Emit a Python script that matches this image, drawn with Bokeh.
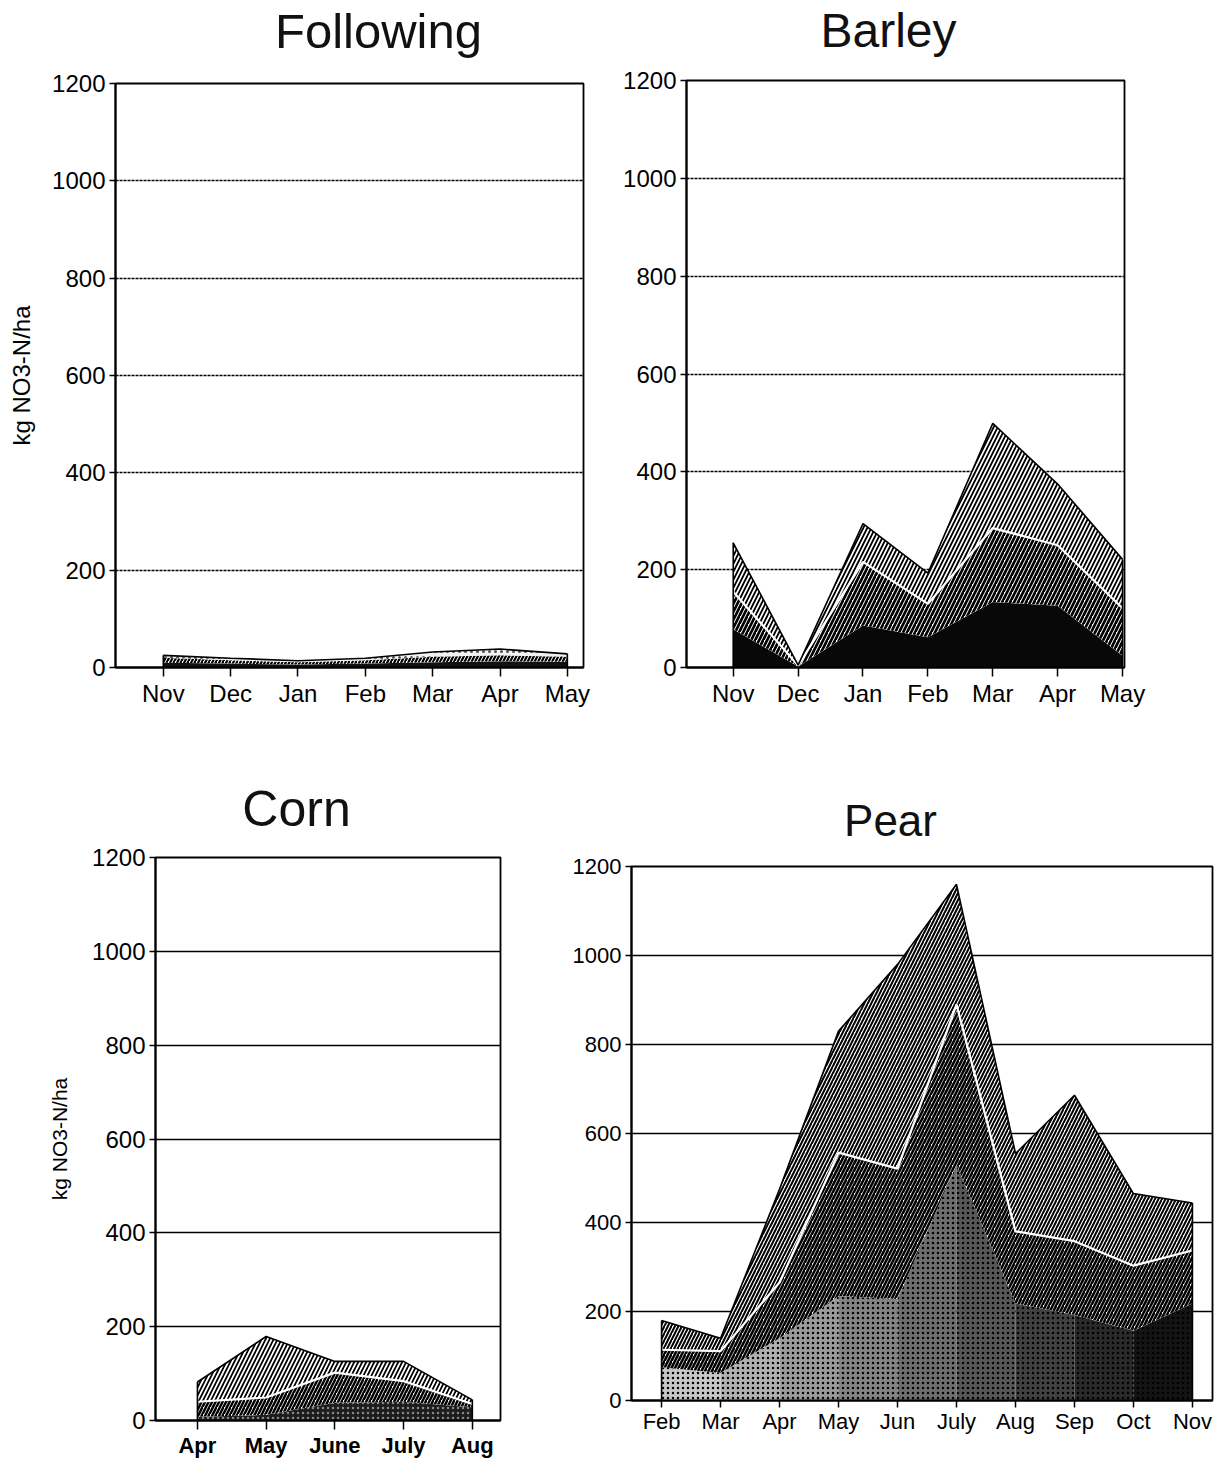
import numpy as np
from bokeh.plotting import figure
from bokeh.models import Range1d, FixedTicker, ColumnDataSource, CDSView, IndexFilter
from bokeh.layouts import column, row
from bokeh.transform import stack
from bokeh.core.properties import value
from bokeh.embed import file_html
from bokeh.resources import INLINE

FONT = "Liberation Sans"
Y_TICKS = [0, 200, 400, 600, 800, 1000, 1200]
Y_LABEL = "kg NO3-N/ha"

# ---------------- data (kg NO3-N/ha per layer, stacked) ----------------
following_months = ["Nov", "Dec", "Jan", "Feb", "Mar", "Apr", "May"]
following_layer1 = [10, 8, 6, 8, 11, 13, 12]
following_layer2 = [10, 7, 5, 7, 11, 12, 10]
following_layer3 = [5, 4, 3, 4, 10, 13, 6]

barley_months = ["Nov", "Dec", "Jan", "Feb", "Mar", "Apr", "May"]
barley_layer1 = [78, 2, 86, 62, 134, 126, 24]
barley_layer2 = [77, 2, 130, 68, 151, 124, 97]
barley_layer3 = [100, 1, 78, 63, 214, 125, 100]

corn_months = ["Apr", "May", "June", "July", "Aug"]
corn_layer1 = [8, 12, 38, 40, 28]
corn_layer2 = [32, 37, 64, 44, 7]
corn_layer3 = [42, 130, 24, 42, 9]

pear_months = ["Feb", "Mar", "Apr", "May", "Jun", "July", "Aug", "Sep", "Oct", "Nov"]
pear_layer1 = [75, 62, 140, 235, 228, 530, 218, 192, 157, 218]
pear_layer2 = [39, 49, 125, 322, 293, 360, 162, 166, 146, 119]
pear_layer3 = [66, 29, 210, 273, 459, 270, 175, 328, 162, 107]


def make_source(months, l1, l2, l3):
    return ColumnDataSource(dict(x=list(range(len(months))), l1=l1, l2=l2, l3=l3))


def title_fig(text, width, height, cx, cy_from_top, size):
    """A strip holding the panel title (pixel-unit ranges)."""
    t = figure(width=width, height=height, x_range=Range1d(0, width), y_range=Range1d(0, height),
               output_backend="svg", toolbar_location=None,
               x_axis_location=None, y_axis_location=None,
               min_border_left=0, min_border_right=0, min_border_top=0, min_border_bottom=0)
    t.frame_align = False
    t.grid.visible = False
    t.outline_line_color = None
    t.background_fill_color = "white"
    t.border_fill_color = "white"
    src = ColumnDataSource(dict(x=[cx], y=[height - cy_from_top], t=[text]))
    t.text(x="x", y="y", text="t", source=src, text_font=value(FONT),
           text_font_size=value(size), text_align="center", text_baseline="middle",
           text_color="#111111")
    return t


def make_fig(months, width, height, left, right, top, bottom, xr, tick_size, xlab_size,
             xlab_style="normal", grid_dash="solid", ylabel=None, ylabel_size="17px",
             label_standoff=25, xtick_out=9, xlab_standoff=3):
    p = figure(width=width, height=height, x_range=Range1d(*xr), y_range=Range1d(0, 1200),
               output_backend="svg", toolbar_location=None,
               min_border_left=left, min_border_right=right,
               min_border_top=top, min_border_bottom=bottom)
    p.frame_align = False

    p.xaxis.ticker = FixedTicker(ticks=list(range(len(months))))
    p.xaxis.major_label_overrides = {i: m for i, m in enumerate(months)}
    p.xaxis.major_label_text_font = FONT
    p.xaxis.major_label_text_font_size = xlab_size
    p.xaxis.major_label_text_font_style = xlab_style
    p.xaxis.major_label_text_color = "black"
    p.xaxis.major_tick_out = xtick_out
    p.xaxis.major_tick_in = 0
    p.xaxis.major_tick_line_width = 1.5
    p.xaxis.minor_tick_line_color = None
    p.xaxis.axis_line_width = 2
    p.xaxis.major_label_standoff = xlab_standoff

    p.yaxis.ticker = FixedTicker(ticks=Y_TICKS)
    p.yaxis.major_label_text_font = FONT
    p.yaxis.major_label_text_font_size = tick_size
    p.yaxis.major_label_text_color = "black"
    p.yaxis.major_tick_out = 6
    p.yaxis.major_tick_in = 0
    p.yaxis.major_tick_line_width = 1.5
    p.yaxis.minor_tick_line_color = None
    p.yaxis.axis_line_width = 2
    p.yaxis.major_label_standoff = 4
    if ylabel:
        p.yaxis.axis_label = ylabel
        p.yaxis.axis_label_text_font = FONT
        p.yaxis.axis_label_text_font_size = ylabel_size
        p.yaxis.axis_label_text_font_style = "normal"
        p.yaxis.axis_label_text_color = "black"
        p.yaxis.axis_label_standoff = label_standoff

    p.xgrid.visible = False
    p.ygrid.ticker = FixedTicker(ticks=Y_TICKS)
    p.ygrid.grid_line_color = "black"
    p.ygrid.grid_line_width = 1.3
    p.ygrid.grid_line_dash = grid_dash
    p.outline_line_color = "black"
    p.outline_line_width = 1.8
    p.background_fill_color = "white"
    p.border_fill_color = "white"
    return p


def draw_layers(p, src, n, styles, white_line=True):
    names = ["l1", "l2", "l3"]
    for i, st in enumerate(styles):
        if st is None:
            continue
        y1 = stack(*names[:i]) if i > 0 else 0
        p.varea(x="x", y1=y1, y2=stack(*names[:i + 1]), source=src, **st)
    if white_line:
        p.line(x="x", y=stack("l1", "l2"), source=src, line_color="white", line_width=2.2)
    p.line(x="x", y=stack("l1", "l2", "l3"), source=src, line_color="black", line_width=1.6)
    ends = CDSView(filter=IndexFilter([0, n - 1]))
    p.segment(x0="x", y0=0, x1="x", y1=stack("l1", "l2", "l3"), source=src, view=ends,
              line_color="black", line_width=1.6)


# ---------------- Following ----------------
tA = title_fig("Following", 620, 66, 378, 30, "49px")
pA = make_fig(following_months, 620, 674, 115, 37, 17, 73, (-0.71, 6.24),
              "24px", "24px", grid_dash="3 1", ylabel=Y_LABEL, ylabel_size="24px",
              label_standoff=14)
srcA = make_source(following_months, following_layer1, following_layer2, following_layer3)
draw_layers(pA, srcA, len(following_months), [
    dict(fill_color="#111111"),
    dict(fill_color="#ffffff", hatch_pattern="/", hatch_color="black", hatch_scale=7, hatch_weight=2.2),
    dict(fill_color="#f2f2f2", hatch_pattern=".", hatch_color="#555555", hatch_scale=6, hatch_weight=1),
], white_line=False)

# ---------------- Barley ----------------
tB = title_fig("Barley", 605, 64, 268, 30, "48px")
pB = make_fig(barley_months, 605, 676, 63, 101, 16, 73, (-0.72, 6.03),
              "24px", "24px", grid_dash="3 1")
srcB = make_source(barley_months, barley_layer1, barley_layer2, barley_layer3)
draw_layers(pB, srcB, len(barley_months), [
    dict(fill_color="#080808"),
    dict(fill_color="#ffffff", hatch_pattern="/", hatch_color="black", hatch_scale=8, hatch_weight=2.7),
    dict(fill_color="#ffffff", hatch_pattern="/", hatch_color="black", hatch_scale=8, hatch_weight=1.8),
])

# ---------------- Corn ----------------
tC = title_fig("Corn", 560, 100, 296, 68, "50px")
pC = make_fig(corn_months, 560, 620, 155, 60, 17, 35, (-0.61, 4.41),
              "24px", "22px", xlab_style="bold", ylabel=Y_LABEL, ylabel_size="21px",
              label_standoff=18)
srcC = make_source(corn_months, corn_layer1, corn_layer2, corn_layer3)
draw_layers(pC, srcC, len(corn_months), [
    dict(fill_color="#1c1c1c", hatch_pattern=".", hatch_color="#888888", hatch_scale=5, hatch_weight=1),
    dict(fill_color="#ffffff", hatch_pattern="/", hatch_color="black", hatch_scale=7, hatch_weight=2.5),
    dict(fill_color="#ffffff", hatch_pattern="/", hatch_color="black", hatch_scale=8, hatch_weight=1.7),
])

# ---------------- Pear ----------------
tD = title_fig("Pear", 665, 110, 330, 80, "44px")
pD = make_fig(pear_months, 665, 610, 71, 13, 16, 60, (-0.51, 9.34),
              "22px", "22px", xtick_out=7, xlab_standoff=1)
srcD = make_source(pear_months, pear_layer1, pear_layer2, pear_layer3)
# bottom stippled layer, lighter at the start of the season, darker later
nD = len(pear_months)
for i in range(nD - 1):
    g = int(200 - 180 * i / (nD - 2))
    col = "#%02x%02x%02x" % (g, g, g)
    pD.varea(x=[i, i + 1], y1=[0, 0], y2=[pear_layer1[i], pear_layer1[i + 1]],
             fill_color=col, hatch_pattern=".", hatch_color="black", hatch_scale=5, hatch_weight=1)
draw_layers(pD, srcD, nD, [
    None,
    dict(fill_color="#ffffff", hatch_pattern="/", hatch_color="black", hatch_scale=7, hatch_weight=2.6),
    dict(fill_color="#ffffff", hatch_pattern="/", hatch_color="black", hatch_scale=7, hatch_weight=2.0),
])

layout = column(row(column(tA, pA), column(tB, pB)), row(column(tC, pC), column(tD, pD)))
open("out.html", "w").write(file_html(layout, INLINE))
